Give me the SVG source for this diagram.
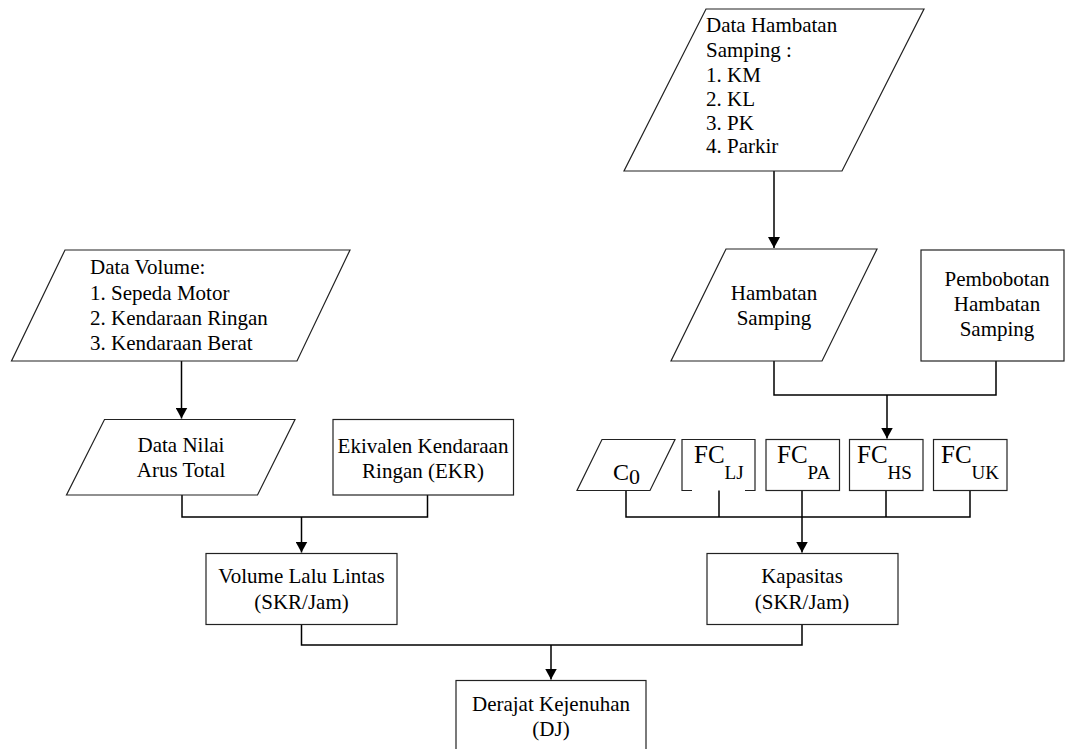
<svg xmlns="http://www.w3.org/2000/svg" width="1067" height="749" viewBox="0 0 1067 749">
<defs>
<marker id="ah" markerUnits="userSpaceOnUse" markerWidth="11" markerHeight="12" refX="11" refY="6" orient="auto">
<path d="M0,0 L11,6 L0,12 z" fill="#000"/>
</marker>
</defs>
<rect width="1067" height="749" fill="#fff"/>
<g id="connectors" fill="none" stroke="#000" stroke-width="1.5">
<path d="M774,171 V248" marker-end="url(#ah)"/>
<path d="M774,361 V395 H996 V361"/>
<path d="M887,395 V438.5" marker-end="url(#ah)"/>
<path d="M181.5,361 V418.5" marker-end="url(#ah)"/>
<path d="M182,495 V517 H427.5 V495"/>
<path d="M301.5,517 V552.5" marker-end="url(#ah)"/>
<path d="M626,490 V517 H970 V490 M719,490 V517 M802,490 V517 M886,490 V517"/>
<path d="M802,517 V552.5" marker-end="url(#ah)"/>
<path d="M301.5,625 V645 H802 V625"/>
<path d="M551,645 V679.5" marker-end="url(#ah)"/>
</g>
<g id="data-hambatan">
<polygon fill="#fff" stroke="#222" stroke-width="1.2" points="706,9 924,9 842,171 624,171"/>
<text font-family="Liberation Serif" font-size="21" x="706" y="32">Data Hambatan</text>
<text font-family="Liberation Serif" font-size="21" x="706" y="57">Samping :</text>
<text font-family="Liberation Serif" font-size="21" x="706" y="82">1. KM</text>
<text font-family="Liberation Serif" font-size="21" x="706" y="106">2. KL</text>
<text font-family="Liberation Serif" font-size="21" x="706" y="130">3. PK</text>
<text font-family="Liberation Serif" font-size="21" x="706" y="153">4. Parkir</text>
</g>
<g id="hambatan-samping">
<polygon fill="#fff" stroke="#222" stroke-width="1.2" points="726,249 877,249 822,361 671,361"/>
<text font-family="Liberation Serif" font-size="21" text-anchor="middle" x="774" y="300">Hambatan</text>
<text font-family="Liberation Serif" font-size="21" text-anchor="middle" x="774" y="325">Samping</text>
</g>
<g id="pembobotan">
<rect fill="#fff" stroke="#222" stroke-width="1.2" x="921" y="250" width="143" height="111"/>
<text font-family="Liberation Serif" font-size="21" text-anchor="middle" x="997" y="286">Pembobotan</text>
<text font-family="Liberation Serif" font-size="21" text-anchor="middle" x="997" y="311">Hambatan</text>
<text font-family="Liberation Serif" font-size="21" text-anchor="middle" x="997" y="336">Samping</text>
</g>
<g id="data-volume">
<polygon fill="#fff" stroke="#222" stroke-width="1.2" points="65,250 350,250 297,361 11.5,361"/>
<text font-family="Liberation Serif" font-size="21" x="90" y="274">Data Volume:</text>
<text font-family="Liberation Serif" font-size="21" x="90" y="300">1. Sepeda Motor</text>
<text font-family="Liberation Serif" font-size="21" x="90" y="325">2. Kendaraan Ringan</text>
<text font-family="Liberation Serif" font-size="21" x="90" y="350">3. Kendaraan Berat</text>
</g>
<g id="data-nilai">
<polygon fill="#fff" stroke="#222" stroke-width="1.2" points="104.5,419.5 295,419.5 257.5,495 66.5,495"/>
<text font-family="Liberation Serif" font-size="21" text-anchor="middle" x="181" y="452">Data Nilai</text>
<text font-family="Liberation Serif" font-size="21" text-anchor="middle" x="181" y="477">Arus Total</text>
</g>
<g id="ekivalen">
<rect fill="#fff" stroke="#222" stroke-width="1.2" x="333" y="419.5" width="180.5" height="75.5"/>
<text font-family="Liberation Serif" font-size="21" text-anchor="middle" x="423" y="453">Ekivalen Kendaraan</text>
<text font-family="Liberation Serif" font-size="21" text-anchor="middle" x="423" y="478">Ringan (EKR)</text>
</g>
<g id="c0">
<polygon fill="#fff" stroke="#222" stroke-width="1.2" points="602,439.5 675,439.5 650,490.5 577,490.5"/>
<text font-family="Liberation Serif" x="613" y="480" font-size="24">C<tspan font-size="22" dy="4">0</tspan></text>
</g>
<g id="fc-lj">
<rect fill="#fff" stroke="none" x="682" y="439.5" width="73" height="51"/>
<path fill="none" stroke="#222" stroke-width="1.2" d="M692,490.5 H682 V439.5 H755 V490.5 H745"/>
<text font-family="Liberation Serif" x="694" y="463" font-size="25">FC<tspan font-size="19" dy="16">LJ</tspan></text>
</g>
<g id="fc-pa">
<rect fill="#fff" stroke="#222" stroke-width="1.2" x="766" y="439.5" width="73.5" height="51"/>
<text font-family="Liberation Serif" x="777" y="463" font-size="25">FC<tspan font-size="19" dy="16">PA</tspan></text>
</g>
<g id="fc-hs">
<rect fill="#fff" stroke="#222" stroke-width="1.2" x="849.5" y="439.5" width="73.5" height="51"/>
<text font-family="Liberation Serif" x="857" y="463" font-size="25">FC<tspan font-size="19" dy="16">HS</tspan></text>
</g>
<g id="fc-uk">
<rect fill="#fff" stroke="#222" stroke-width="1.2" x="933.5" y="439.5" width="73.5" height="51"/>
<text font-family="Liberation Serif" x="941" y="463" font-size="25">FC<tspan font-size="19" dy="16">UK</tspan></text>
</g>
<g id="volume">
<rect fill="#fff" stroke="#222" stroke-width="1.2" x="206" y="553.5" width="191" height="71"/>
<text font-family="Liberation Serif" font-size="21" text-anchor="middle" x="301.5" y="583">Volume Lalu Lintas</text>
<text font-family="Liberation Serif" font-size="21" text-anchor="middle" x="301.5" y="609">(SKR/Jam)</text>
</g>
<g id="kapasitas">
<rect fill="#fff" stroke="#222" stroke-width="1.2" x="707" y="553.5" width="191" height="71"/>
<text font-family="Liberation Serif" font-size="21" text-anchor="middle" x="802" y="583">Kapasitas</text>
<text font-family="Liberation Serif" font-size="21" text-anchor="middle" x="802" y="609">(SKR/Jam)</text>
</g>
<g id="derajat">
<rect fill="#fff" stroke="#222" stroke-width="1.2" x="456" y="680.5" width="190" height="80"/>
<text font-family="Liberation Serif" font-size="21" text-anchor="middle" x="551" y="711">Derajat Kejenuhan</text>
<text font-family="Liberation Serif" font-size="21" text-anchor="middle" x="551" y="736">(DJ)</text>
</g>
</svg>
